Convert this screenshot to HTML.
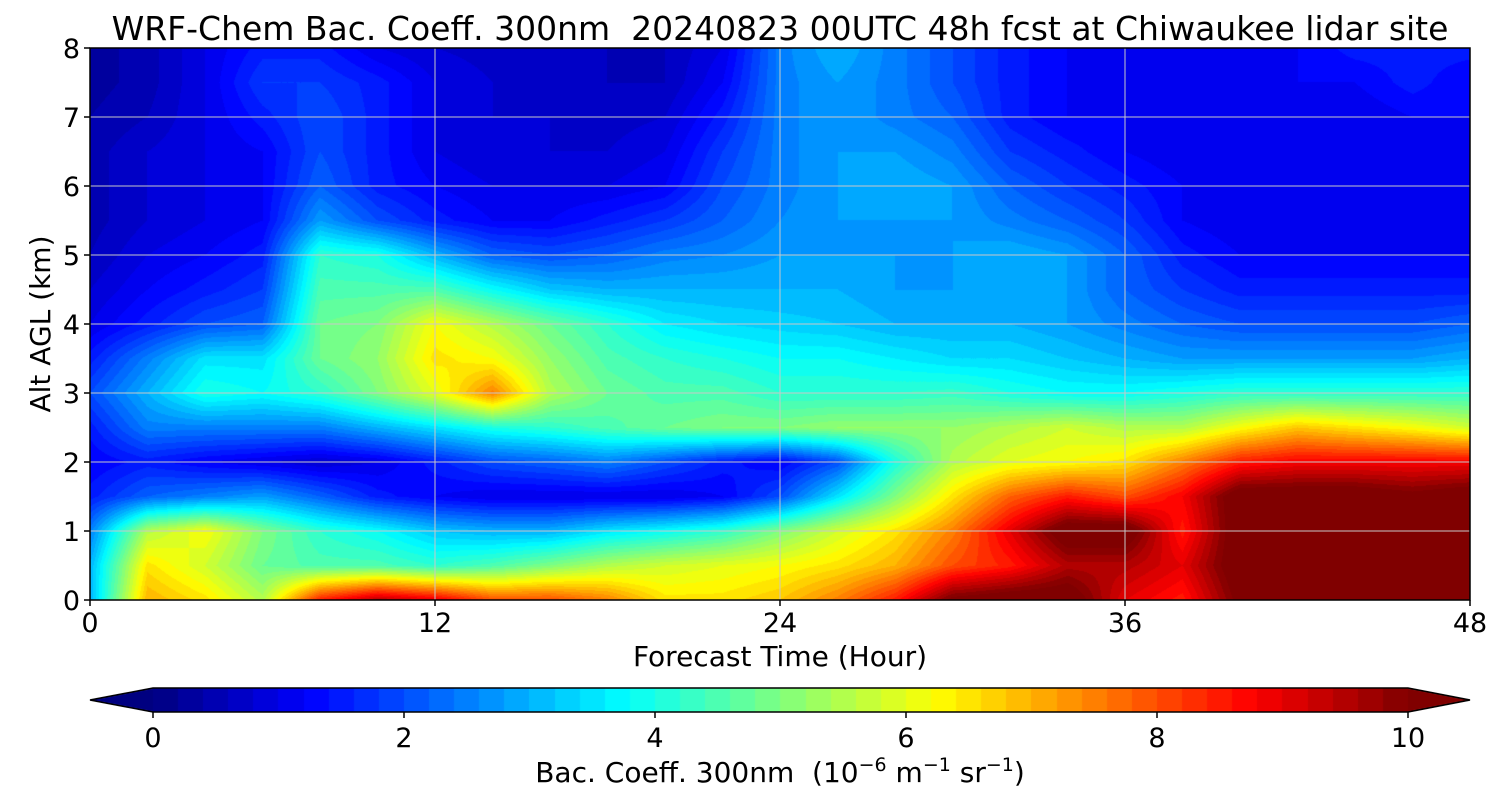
<!DOCTYPE html>
<html><head><meta charset="utf-8">
<style>
body{margin:0;background:#fff;width:1500px;height:800px;overflow:hidden;font-family:"DejaVu Sans","Liberation Sans",sans-serif;}
#wrap{position:relative;width:1500px;height:800px;}
canvas{position:absolute;}
svg{position:absolute;left:0;top:0;font-family:"DejaVu Sans","Liberation Sans",sans-serif;}
</style></head>
<body>
<div id="wrap">
<canvas id="heat" width="1380" height="552" style="left:90px;top:48px"></canvas>
<canvas id="cbar" width="1380" height="24" style="left:90px;top:688px"></canvas>
<svg id="ov" width="1500" height="800"></svg>
</div>
<script>
const times=[0,2,4,6,8,10,12,14,16,18,20,22,24,26,28,30,32,34,36,38,40,42,44,46,48];
const alts=[8,7.5,7,6.5,6,5.5,5,4.5,4,3.5,3,2.5,2,1.5,1,0.5,0];
const row8 =[0.3,0.5,1.0,1.5,1.5,1.0,0.8,0.7,0.6,0.6,0.6,1.0,2.5,3.0,2.5,2.0,1.5,1.2,1.0,1.0,1.2,1.2,1.5,1.5,1.5];
const row75=[0.3,0.5,1.0,1.8,1.8,1.5,1.0,0.8,0.7,0.6,0.6,1.2,2.5,2.8,2.5,2.0,1.5,1.2,1.0,1.0,1.2,1.2,1.2,1.5,1.2];
const row7 =[0.4,0.6,1.0,1.5,2.0,1.5,1.0,0.8,0.8,0.7,0.8,1.5,2.5,2.8,2.5,2.2,1.5,1.2,1.2,1.0,1.0,1.0,1.0,1.2,1.2];
const row65=[0.5,0.8,1.0,1.2,2.0,1.5,1.0,0.8,0.8,0.8,1.0,1.8,2.5,2.8,2.8,2.5,1.8,1.5,1.2,1.0,1.0,1.0,1.0,1.0,1.2];
const row6 =[0.5,0.8,1.0,1.2,2.2,1.5,1.2,1.0,1.0,1.0,1.2,2.0,2.5,2.8,3.0,2.8,2.2,1.8,1.5,1.2,1.0,1.0,1.0,1.0,1.2];
const row55=[0.5,0.8,1.0,1.2,2.8,2.0,1.5,1.2,1.2,1.5,1.8,2.2,2.6,2.8,2.8,2.8,2.5,2.2,1.8,1.2,1.0,1.0,1.0,1.0,1.2];
const row5 =[0.6,1.0,1.2,1.5,4.2,4.0,3.0,2.2,2.0,2.2,2.5,2.6,2.8,2.8,2.8,2.8,3.0,2.8,2.2,1.5,1.2,1.2,1.2,1.2,1.2];
const row45=[0.8,1.2,1.5,1.8,4.5,4.5,4.5,3.8,3.2,3.0,3.0,3.0,3.0,3.0,2.8,2.8,3.0,2.8,2.2,1.8,1.5,1.5,1.5,1.5,1.5];
const row4 =[1.0,1.5,2.0,2.2,4.8,5.0,6.2,5.5,4.8,4.2,3.6,3.4,3.3,3.2,3.0,3.0,3.0,2.8,2.5,2.2,2.0,2.0,2.0,2.0,2.2];
const row35=[1.5,2.5,3.5,3.5,4.8,5.2,6.5,6.2,5.2,4.5,4.2,4.0,3.8,3.8,3.6,3.4,3.4,3.2,3.0,2.8,2.8,2.8,2.8,2.8,3.0];
const row3 =[2.0,3.0,4.0,3.8,4.2,5.0,6.0,7.5,5.5,4.8,4.5,4.5,4.2,4.2,4.2,4.3,4.0,3.8,3.8,4.0,4.2,4.2,4.2,4.2,4.2];
const row25=[1.5,2.5,2.5,2.5,2.5,3.0,3.5,4.0,4.2,4.5,4.8,5.0,5.0,5.2,5.2,5.2,5.5,5.8,5.5,5.5,6.2,6.8,6.5,6.2,5.8];
const row2 =[1.2,1.5,1.2,1.0,0.8,1.0,1.5,2.0,2.2,2.5,2.0,1.5,1.2,2.0,4.0,5.5,6.0,6.2,6.5,7.5,8.5,8.8,8.8,8.8,8.8];
const row15=[1.5,2.2,2.5,2.8,2.2,1.5,1.2,1.0,1.0,1.0,1.0,1.2,2.0,3.5,5.0,6.5,7.8,8.5,8.0,8.8,10.5,10.5,10.5,10.2,10.5];
const row1 =[2.5,5.5,6.2,5.0,4.2,3.8,3.2,3.0,3.0,3.5,3.8,4.2,5.0,5.8,6.5,7.5,9.0,10.5,10.5,8.5,10.5,10.5,10.5,10.5,10.5];
const row05=[3.0,6.5,5.8,4.8,4.5,4.5,4.2,4.5,5.0,5.5,5.8,6.0,6.2,6.5,7.0,8.0,8.5,9.5,9.5,9.0,10.5,10.5,10.5,10.5,10.5];
const row0 =[3.0,7.0,6.5,5.5,8.5,9.5,9.0,8.0,8.0,7.5,6.5,6.5,6.8,7.5,8.5,10.2,10.5,10.5,9.0,8.5,10.2,10.5,10.5,10.5,10.5];
const grid=[row8,row75,row7,row65,row6,row55,row5,row45,row4,row35,row3,row25,row2,row15,row1,row05,row0];
const xTicks=[0,12,24,36,48];
const yTicks=[0,1,2,3,4,5,6,7,8];
const cTicks=[0,2,4,6,8,10];

const X0=90,X1=1470,Y0=600,Y1=48;
const xs=t=>X0+(t-0)/48*(X1-X0);
const ys=a=>Y0-(a/8)*(Y0-Y1);
const cx=v=>153+v/10*(1408-153);

function jet(f){f=Math.max(0,Math.min(1,f));
 const r=Math.min(Math.max(Math.min(4*f-1.5,-4*f+4.5),0),1);
 const g=Math.min(Math.max(Math.min(4*f-0.5,-4*f+3.5),0),1);
 const b=Math.min(Math.max(Math.min(4*f+0.5,-4*f+2.5),0),1);
 return [r*255|0,g*255|0,b*255|0];}
function colorOf(v){ if(v>=10) return [128,0,0]; if(v<0) return [0,0,128];
 const q=(Math.floor(v/0.2)+0.5)*0.2; return jet(q/10);}
function sample(t,a){
 const fx=t/2, ci=Math.min(Math.floor(fx),times.length-2), tx=fx-ci;
 const fy=(8-a)/0.5, ri=Math.min(Math.floor(fy),alts.length-2), ty=fy-ri;
 const v00=grid[ri][ci],v01=grid[ri][ci+1],v10=grid[ri+1][ci],v11=grid[ri+1][ci+1];
 return (v00*(1-tx)+v01*tx)*(1-ty)+(v10*(1-tx)+v11*tx)*ty;}
(function(){
 const c=document.getElementById('heat'),ctx=c.getContext('2d');
 const W=c.width,H=c.height,img=ctx.createImageData(W,H);
 for(let py=0;py<H;py++){const a=8-(py+0.5)/H*8;
  for(let px=0;px<W;px++){const t=(px+0.5)/W*48;
   const col=colorOf(sample(t,a));const k=(py*W+px)*4;
   img.data[k]=col[0];img.data[k+1]=col[1];img.data[k+2]=col[2];img.data[k+3]=255;}}
 ctx.putImageData(img,0,0);
 const cb=document.getElementById('cbar'),cc=cb.getContext('2d');
 for(let px=63;px<1318;px++){const v=(px-63+0.5)/(1318-63)*10;const col=colorOf(v);
  cc.fillStyle=`rgb(${col[0]},${col[1]},${col[2]})`;cc.fillRect(px,0,1,24);}
 cc.fillStyle='rgb(0,0,128)';cc.beginPath();cc.moveTo(0,12);cc.lineTo(63,0);cc.lineTo(63,24);cc.fill();
 cc.fillStyle='rgb(128,0,0)';cc.beginPath();cc.moveTo(1380,12);cc.lineTo(1318,0);cc.lineTo(1318,24);cc.fill();
})();
const NS='http://www.w3.org/2000/svg';const svg=document.getElementById('ov');
function el(tag,attrs,txt){const e=document.createElementNS(NS,tag);for(const k in attrs)e.setAttribute(k,attrs[k]);if(txt!==undefined)e.textContent=txt;svg.appendChild(e);return e;}
xTicks.forEach(t=>{
 const g=el('line',{x1:xs(t),x2:xs(t),y1:Y1,y2:Y0,stroke:'#c8c8c8','stroke-width':1});
 
 const tk=el('line',{x1:xs(t),x2:xs(t),y1:Y0,y2:Y0+6,stroke:'#000','stroke-width':1.5});
 
 const l=el('text',{x:xs(t),y:632,'text-anchor':'middle','font-size':27},String(t));
 
});
yTicks.forEach(a=>{
 const g=el('line',{x1:X0,x2:X1,y1:ys(a),y2:ys(a),stroke:'#c8c8c8','stroke-width':1});
 
 const tk=el('line',{x1:X0-6,x2:X0,y1:ys(a),y2:ys(a),stroke:'#000','stroke-width':1.5});
 
 const l=el('text',{x:80,y:ys(a)+10,'text-anchor':'end','font-size':27},String(a));
 
});
const fr=el('rect',{x:X0,y:Y1,width:X1-X0,height:Y0-Y1,fill:'none',stroke:'#000','stroke-width':1.5});

const ttl=el('text',{x:780,y:40,'text-anchor':'middle','font-size':33},'WRF-Chem Bac. Coeff. 300nm  20240823 00UTC 48h fcst at Chiwaukee lidar site');

ttl.setAttribute('xml:space','preserve');ttl.style.whiteSpace='pre';
const xt=el('text',{x:780,y:666,'text-anchor':'middle','font-size':28},'Forecast Time (Hour)');

const yt=el('text',{x:0,y:0,'text-anchor':'middle','font-size':28,transform:'translate(50,324) rotate(-90)'},'Alt AGL (km)');

const cbf=el('polygon',{points:'90,700 153,688 1408,688 1470,700 1408,712 153,712',fill:'none',stroke:'#000','stroke-width':1.5});

cTicks.forEach(v=>{
 const tk=el('line',{x1:cx(v),x2:cx(v),y1:712,y2:718,stroke:'#000','stroke-width':1.5});
 
 const l=el('text',{x:cx(v),y:747,'text-anchor':'middle','font-size':27},String(v));
 
});
const ct=el('text',{x:780,y:782,'text-anchor':'middle','font-size':28},'');

ct.innerHTML='Bac. Coeff. 300nm  (10<tspan font-size="19" dy="-11">−6</tspan><tspan dy="11"> m</tspan><tspan font-size="19" dy="-11">−1</tspan><tspan dy="11"> sr</tspan><tspan font-size="19" dy="-11">−1</tspan><tspan dy="11">)</tspan>';
ct.setAttribute('xml:space','preserve');ct.style.whiteSpace='pre';
</script>
</body></html>
